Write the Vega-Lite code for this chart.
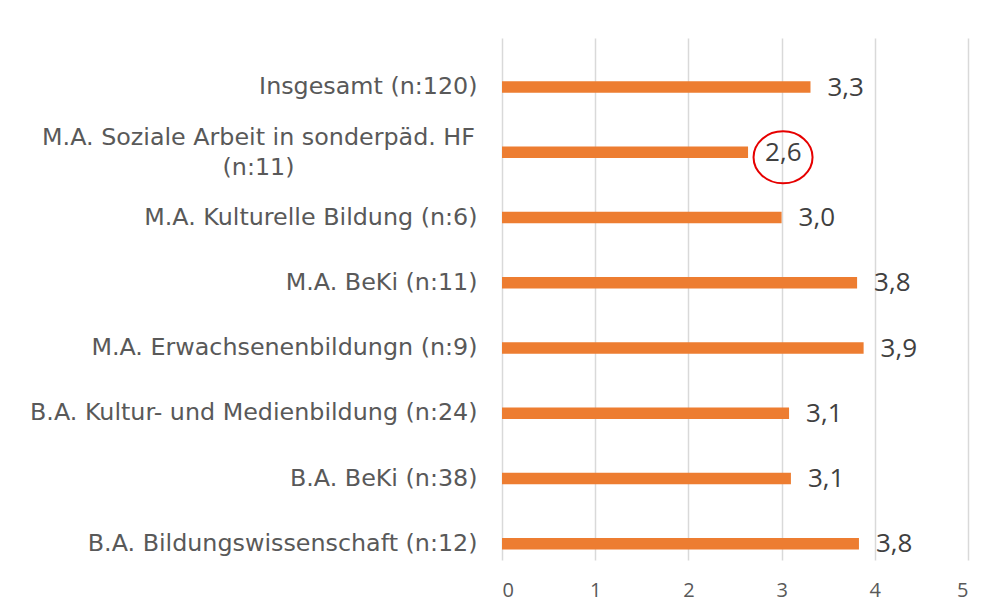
{
  "$schema": "https://vega.github.io/schema/vega-lite/v6.json",
  "width": 466,
  "height": 522,
  "autosize": {"type": "none"},
  "padding": {"left": 502, "top": 38, "right": 22, "bottom": 54},
  "background": "white",
  "config": {
    "view": {"stroke": null},
    "font": "Open Sans",
    "locale": {"number": {"decimal": ",", "thousands": ".", "grouping": [3], "currency": ["", " €"]}}
  },
  "data": {
    "values": [
      {"studiengang": "Insgesamt (n:120)", "wert": 3.31, "markiert": false},
      {"studiengang": "M.A. Soziale Arbeit in sonderpäd. HF (n:11)", "wert": 2.64, "markiert": true},
      {"studiengang": "M.A. Kulturelle Bildung (n:6)", "wert": 3.0, "markiert": false},
      {"studiengang": "M.A. BeKi (n:11)", "wert": 3.81, "markiert": false},
      {"studiengang": "M.A. Erwachsenenbildungn (n:9)", "wert": 3.88, "markiert": false},
      {"studiengang": "B.A. Kultur- und Medienbildung (n:24)", "wert": 3.08, "markiert": false},
      {"studiengang": "B.A. BeKi (n:38)", "wert": 3.1, "markiert": false},
      {"studiengang": "B.A. Bildungswissenschaft (n:12)", "wert": 3.83, "markiert": false}
    ]
  },
  "encoding": {
    "y": {
      "field": "studiengang",
      "type": "nominal",
      "sort": null,
      "scale": {"paddingInner": 0, "paddingOuter": 0},
      "axis": {
        "title": null,
        "domain": false,
        "ticks": false,
        "labelFont": "DejaVu Sans",
        "labelFontSize": 23.8,
        "labelColor": "#595959",
        "labelLimit": 600,
        "labelLineHeight": 30,
        "labelOffset": {"condition": {"test": "datum.value == 'M.A. Soziale Arbeit in sonderpäd. HF (n:11)'", "value": 1.9}, "value": 16.4},
        "labelAlign": {"condition": {"test": "datum.value == 'M.A. Soziale Arbeit in sonderpäd. HF (n:11)'", "value": "center"}, "value": "right"},
        "labelPadding": {"condition": {"test": "datum.value == 'M.A. Soziale Arbeit in sonderpäd. HF (n:11)'", "value": 244}, "value": 25},
        "labelExpr": "datum.value == 'M.A. Soziale Arbeit in sonderpäd. HF (n:11)' ? ['M.A. Soziale Arbeit in sonderpäd. HF', '(n:11)'] : datum.value"
      }
    },
    "x": {
      "field": "wert",
      "type": "quantitative",
      "scale": {"domain": [0, 5], "nice": false},
      "axis": {
        "title": null,
        "domain": false,
        "ticks": false,
        "values": [0, 1, 2, 3, 4, 5],
        "grid": true,
        "gridColor": "#d9d9d9",
        "gridWidth": 1.5,
        "labelFont": "Open Sans",
        "labelFontSize": 20,
        "labelColor": "#595959",
        "labelPadding": 20,
        "format": "d"
      }
    }
  },
  "layer": [
    {
      "mark": {"type": "bar", "color": "#ED7D31", "size": 11.5, "yOffset": 16.4}
    },
    {
      "mark": {"type": "text", "align": "left", "baseline": "middle", "dx": 17, "yOffset": 17, "font": "Open Sans", "fontSize": 26, "color": "#404040"},
      "encoding": {"text": {"field": "wert", "type": "quantitative", "format": ".1f"}}
    },
    {
      "transform": [{"filter": "datum.markiert"}],
      "mark": {"type": "point", "filled": false, "color": "#E60000", "strokeWidth": 2, "opacity": 1, "shape": "M-1,0A1,0.88 0 1,1 1,0A1,0.88 0 1,1 -1,0Z", "size": 3481, "xOffset": 35, "yOffset": 21.4}
    }
  ]
}
